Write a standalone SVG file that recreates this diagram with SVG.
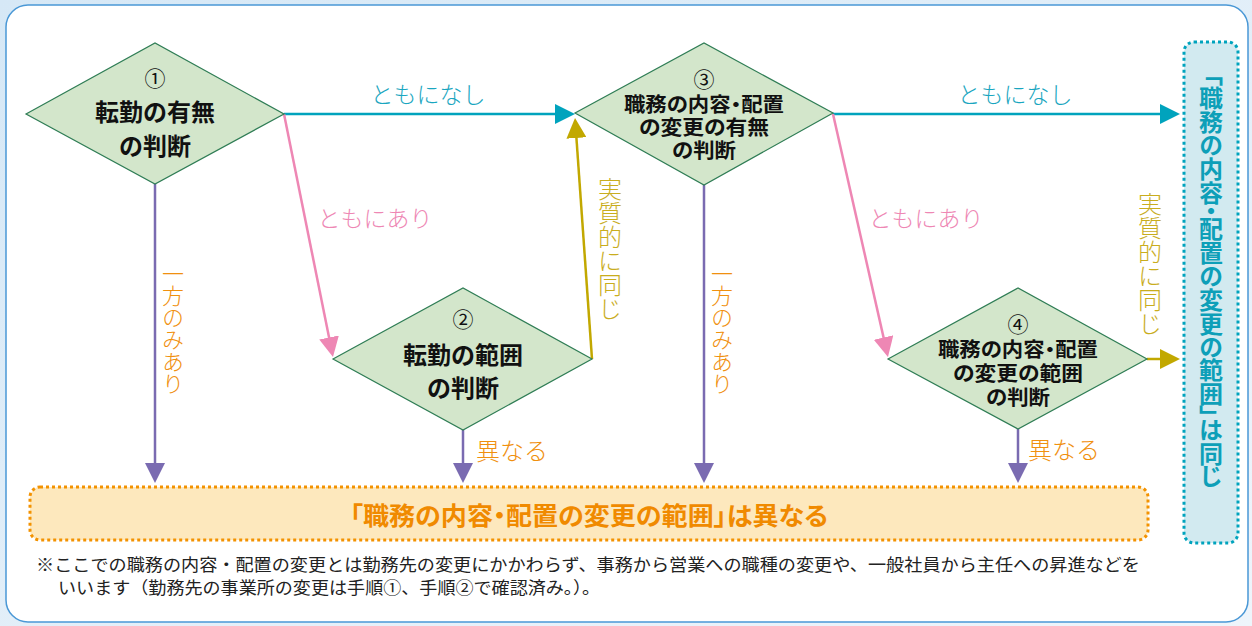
<svg xmlns="http://www.w3.org/2000/svg" width="1252" height="626" viewBox="0 0 1252 626">
<defs>
<linearGradient id="bg" x1="0" y1="0" x2="1" y2="1">
<stop offset="0" stop-color="#d6e8f6"/>
<stop offset="1" stop-color="#eef5fb"/>
</linearGradient>
<marker id="aTeal" markerUnits="userSpaceOnUse" markerWidth="20" markerHeight="20" refX="16" refY="10" orient="auto"><path d="M0,0 L20,10 L0,20 z" fill="#00a3bd"/></marker>
<marker id="aPink" markerUnits="userSpaceOnUse" markerWidth="20" markerHeight="20" refX="16" refY="10" orient="auto"><path d="M0,0 L20,10 L0,20 z" fill="#ee87b4"/></marker>
<marker id="aOlive" markerUnits="userSpaceOnUse" markerWidth="20" markerHeight="20" refX="16" refY="10" orient="auto"><path d="M0,0 L20,10 L0,20 z" fill="#c2a800"/></marker>
<marker id="aPurple" markerUnits="userSpaceOnUse" markerWidth="20" markerHeight="20" refX="16" refY="10" orient="auto"><path d="M0,0 L20,10 L0,20 z" fill="#7a6bb1"/></marker>
</defs>
<style>
text{font-family:"Noto Sans CJK JP","Noto Sans",sans-serif;}
.dia{fill:#d3e6cb;stroke:#2f7d55;stroke-width:1.2;}
.nt{font-size:24px;font-weight:bold;fill:#111;text-anchor:middle;dominant-baseline:central;}
.nt2{font-size:20px;font-weight:bold;fill:#111;text-anchor:middle;dominant-baseline:central;font-feature-settings:"palt";}
.num{font-size:21px;font-weight:normal;fill:#111;text-anchor:middle;dominant-baseline:central;}
.ln{fill:none;stroke-width:2.5;}
.lbl{font-size:23px;font-weight:300;text-anchor:middle;dominant-baseline:central;}
.vlbl{font-size:22px;font-weight:300;writing-mode:vertical-rl;}
.foot{font-size:17px;fill:#222;}
</style>
<rect x="0" y="0" width="1252" height="626" fill="url(#bg)"/>
<rect x="6" y="5" width="1242" height="617" rx="22" ry="22" fill="#ffffff" stroke="#4a98d6" stroke-width="1.5"/>

<g id="connectors">
<line class="ln" stroke="#00a3bd" x1="284" y1="114" x2="571" y2="114" marker-end="url(#aTeal)"/>
<line class="ln" stroke="#00a3bd" x1="833" y1="114" x2="1176" y2="114" marker-end="url(#aTeal)"/>
<line class="ln" stroke="#ee87b4" x1="284" y1="114" x2="332.2" y2="353.1" marker-end="url(#aPink)"/>
<line class="ln" stroke="#ee87b4" x1="833" y1="114" x2="887.1" y2="353.1" marker-end="url(#aPink)"/>
<line class="ln" stroke="#c2a800" x1="592" y1="359" x2="575.3" y2="122" marker-end="url(#aOlive)"/>
<line class="ln" stroke="#c2a800" x1="1147" y1="359" x2="1176" y2="359" marker-end="url(#aOlive)"/>
<line class="ln" stroke="#7a6bb1" x1="155" y1="184" x2="155" y2="479" marker-end="url(#aPurple)"/>
<line class="ln" stroke="#7a6bb1" x1="463" y1="430" x2="463" y2="479" marker-end="url(#aPurple)"/>
<line class="ln" stroke="#7a6bb1" x1="704" y1="185" x2="704" y2="479" marker-end="url(#aPurple)"/>
<line class="ln" stroke="#7a6bb1" x1="1018" y1="429" x2="1018" y2="479" marker-end="url(#aPurple)"/>
<text class="lbl" fill="#1aa6c0" x="428" y="93">ともになし</text>
<text class="lbl" fill="#1aa6c0" x="1015" y="93">ともになし</text>
<text class="lbl" fill="#ee87b4" x="375" y="217">ともにあり</text>
<text class="lbl" fill="#ee87b4" x="926" y="217">ともにあり</text>
<text class="vlbl" fill="#c9ad1e" x="610" y="177" style="font-size:24px">実質的に同じ</text>
<text class="vlbl" fill="#c9ad1e" x="1150" y="192" style="font-size:24px">実質的に同じ</text>
<text class="vlbl" fill="#f0900f" x="173" y="263">一方のみあり</text>
<text class="vlbl" fill="#f0900f" x="722" y="263">一方のみあり</text>
<text class="lbl" fill="#f0900f" x="512" y="449" style="font-size:24px">異なる</text>
<text class="lbl" fill="#f0900f" x="1064" y="448" style="font-size:24px">異なる</text>
</g>

<g id="node1">
<polygon class="dia" points="26,114 155,43 284,114 155,184"/>
<text class="num" x="155" y="77">①</text>
<text class="nt" x="155" y="110">転勤の有無</text>
<text class="nt" x="155" y="144">の判断</text>
</g>

<g id="node2">
<polygon class="dia" points="333,359 463,288 592,359 463,430"/>
<text class="num" x="463" y="318">②</text>
<text class="nt" x="463" y="353">転勤の範囲</text>
<text class="nt" x="463" y="386">の判断</text>
</g>

<g id="node3">
<polygon class="dia" points="575,113 704,43 833,113 704,185"/>
<text class="num" x="704" y="78">③</text>
<text class="nt2" x="704" y="103" textLength="160" lengthAdjust="spacingAndGlyphs">職務の内容・配置</text>
<text class="nt2" x="704" y="126" textLength="130" lengthAdjust="spacingAndGlyphs">の変更の有無</text>
<text class="nt2" x="704" y="149" textLength="64" lengthAdjust="spacingAndGlyphs">の判断</text>
</g>

<g id="node4">
<polygon class="dia" points="888,359 1018,288 1147,359 1018,429"/>
<text class="num" x="1018" y="323">④</text>
<text class="nt2" x="1018" y="348" textLength="160" lengthAdjust="spacingAndGlyphs">職務の内容・配置</text>
<text class="nt2" x="1018" y="372" textLength="130" lengthAdjust="spacingAndGlyphs">の変更の範囲</text>
<text class="nt2" x="1018" y="396" textLength="64" lengthAdjust="spacingAndGlyphs">の判断</text>
</g>

<g id="result-differ">
<rect x="30" y="487" width="1118" height="53" rx="10" ry="10" fill="#fde8bd" stroke="#f39200" stroke-width="3" stroke-dasharray="3 3"/>
<text x="589" y="514" font-size="25" font-weight="bold" fill="#f08a00" text-anchor="middle" dominant-baseline="central" textLength="478" lengthAdjust="spacingAndGlyphs" style="font-feature-settings:'palt'">「職務の内容・配置の変更の範囲」は異なる</text>
</g>

<g id="result-same">
<rect x="1184" y="42" width="54" height="501" rx="10" ry="10" fill="#d2eaf0" stroke="#00a3bd" stroke-width="3" stroke-dasharray="3 3"/>
<text x="1211" y="74" font-size="24" font-weight="bold" fill="#0d9fb8" style="writing-mode:vertical-rl;font-feature-settings:'vpal'">「職務の内容・配置の変更の範囲」は同じ</text>
</g>

<g id="footnote">
<text class="foot" x="36" y="571" textLength="1104" lengthAdjust="spacingAndGlyphs">※ここでの職務の内容・配置の変更とは勤務先の変更にかかわらず、事務から営業への職種の変更や、一般社員から主任への昇進などを</text>
<text class="foot" x="58" y="594" textLength="542" lengthAdjust="spacingAndGlyphs">いいます（勤務先の事業所の変更は手順①、手順②で確認済み。）。</text>
</g>
</svg>
